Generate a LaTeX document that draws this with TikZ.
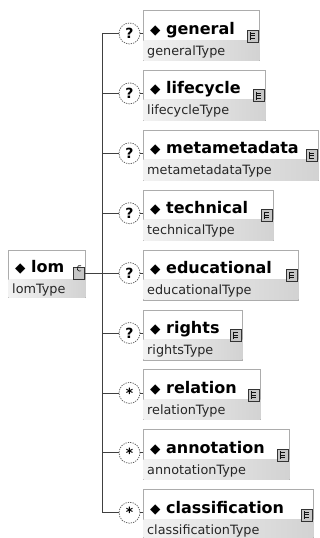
\documentclass[tikz,border=0pt]{standalone}
\usepackage{fontspec}
\setmainfont{DejaVu Sans}
\usetikzlibrary{calc}
\tikzset{
  elembox/.style={draw=gray!65, line width=0.9pt, fill=white, rectangle, inner sep=0pt},
  nametext/.style={font=\bfseries\fontsize{16}{18}\selectfont, inner sep=0pt, text=black},
  typetext/.style={font=\fontsize{12.8}{14}\selectfont, inner sep=0pt, text=black!85},
  iconbox/.style={draw=gray!40!black, line width=0.6pt, fill=gray!45, rectangle, minimum width=11pt, minimum height=12pt, inner sep=0pt},
  occ/.style={circle, draw=gray!70!black, dash pattern=on 1.3pt off 1.1pt, line width=0.7pt, fill=white, minimum size=21pt, inner sep=0pt, font=\bfseries\fontsize{14}{14}\selectfont},
  conn/.style={draw=gray!50!black, line width=0.8pt},
}
\newcommand{\dmd}{{\fontsize{13.5}{13.5}\selectfont ◆}}
\begin{document}
\begin{tikzpicture}[x=1pt,y=-1pt]
\useasboundingbox (0,0) rectangle (320,538);
\fill[white] (0,0) rectangle (320,538);

% root element
\node[elembox, minimum width=77pt, minimum height=47pt, anchor=north west] (lom) at (8,250) {};
\path[left color=gray!10, right color=gray!35] ($(lom.north west)+(0.6,29)$) rectangle ($(lom.south east)+(-0.6,-0.6)$);
\node[nametext, anchor=base west] (lomname) at ($(lom.north west)+(7,22)$) {\dmd\ lom};
\node[typetext, anchor=base west] (lomtype) at ($(lom.north west)+(4,43)$) {lomType};
\node[iconbox, anchor=north east] (lomicon) at ($(lom.north east)+(-1,17)$) {};
\draw[gray!15!black, line width=0.6pt] ($(lomicon.center)+(2,-2.5)$) arc (60:300:2.6 and 2.9);

\coordinate (trunktop) at (102,33.5);
\coordinate (trunkbot) at (102,512.7);
\draw[conn] (trunktop) -- (trunkbot);
\draw[conn] (lomicon.east) -- (lomicon.east -| trunktop);

\foreach \i/\nm/\w in {1/general/116, 2/lifecycle/122, 3/metametadata/175, 4/technical/130, 5/educational/155, 6/rights/99, 7/relation/117, 8/annotation/146, 9/classification/170}{
  \pgfmathsetmacro{\top}{10+59.9*(\i-1)}
  \node[elembox, minimum width=\w pt, minimum height=50pt, anchor=north west] (b\i) at (143,\top) {};
  \path[left color=gray!10, right color=gray!35] ($(b\i.north west)+(0.6,30)$) rectangle ($(b\i.south east)+(-0.6,-0.6)$);
  \node[nametext, anchor=base west] (n\i) at ($(b\i.north west)+(7,24)$) {\dmd\ \nm};
  \node[typetext, anchor=base west] (t\i) at ($(b\i.north west)+(4,45)$) {\nm Type};
  \node[iconbox, anchor=north east] (i\i) at ($(b\i.north east)+(-1,19.5)$) {};
  \draw[gray!15!black, line width=0.6pt] ($(i\i.north west)+(3,2.5)$) -- ($(i\i.south west)+(3,-2.5)$)
     ($(i\i.north west)+(3,3.5)$) -- ++(5,0)
     ($(i\i.north west)+(3,6)$) -- ++(5,0)
     ($(i\i.north west)+(3,8.5)$) -- ++(5,0);
  \node[occ] (c\i) at (129.5,\top+23.5) {\ifnum\i>6 \raisebox{-0.3ex}{*}\else ?\fi};
  \draw[conn] (c\i.west -| trunktop) -- (c\i.west);
  \draw[conn] (c\i.east) -- (c\i.east -| b\i.west);
}
\end{tikzpicture}
\end{document}
